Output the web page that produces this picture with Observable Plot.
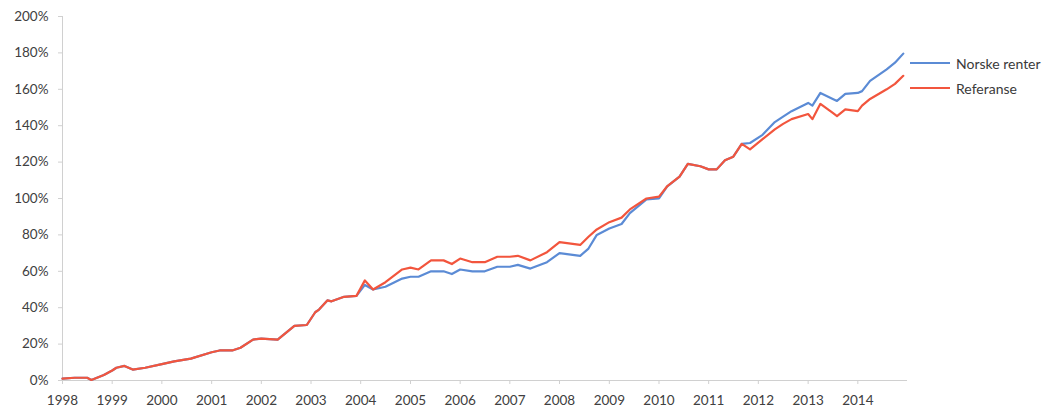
<!DOCTYPE html>
<html>
<head>
<meta charset="utf-8">
<script src="https://cdn.jsdelivr.net/npm/d3@7"></script>
<script src="https://cdn.jsdelivr.net/npm/@observablehq/plot@0.6"></script>
<style>
  html, body { margin: 0; padding: 0; background: #ffffff; }
  #wrap { position: relative; width: 1050px; height: 413px; font-family: Lato, "Open Sans", sans-serif; }
  .legend { position: absolute; left: 910px; font-size: 14px; color: #3a3a3a; display: flex; align-items: center; }
  .legend .sw { width: 40px; height: 2px; margin-right: 6px; }
</style>
</head>
<body>
<div id="wrap"></div>
<script>
const seriesNames = ["Norske renter", "Referanse"];
const seriesColors = ["#5b8bd5", "#f2553d"];

const dates = [
  "1998-01","1998-04","1998-07","1998-08","1998-11","1999-01","1999-02","1999-04","1999-06","1999-09",
  "2000-01","2000-04","2000-08","2001-01","2001-03","2001-06","2001-08","2001-11","2002-01","2002-05",
  "2002-09","2002-12","2003-02","2003-03","2003-05","2003-06","2003-09","2003-12","2004-02","2004-04",
  "2004-07","2004-11","2005-01","2005-03","2005-06","2005-09","2005-11","2006-01","2006-04","2006-07",
  "2006-10","2007-01","2007-03","2007-06","2007-10","2008-01","2008-06","2008-08","2008-10","2009-01",
  "2009-04","2009-06","2009-10","2010-01","2010-03","2010-06","2010-08","2010-11","2011-01","2011-03",
  "2011-05","2011-07","2011-09","2011-11","2012-02","2012-05","2012-07","2012-09","2013-01","2013-02",
  "2013-04","2013-07","2013-08","2013-10","2014-01","2014-02","2014-04","2014-08","2014-10","2014-12"
];

const norske = [
  1,1.5,1.5,0.3,3,5.5,7,8,6,7,
  9,10.5,12,15.5,16.5,16.5,18,22.5,23,22.5,
  30,30.5,37.5,39,44,43.5,46,46.5,52.5,50,
  51.5,56,57,57,60,60,58.5,61,60,60,
  62.5,62.5,63.5,61.5,65,70,68.5,72.5,80,83.5,
  86,92,99.5,100,106.5,112,119,117.7,116,116,
  121,123,130,130.5,135,142,145,148,152.5,151,
  158,154.7,153.6,157.5,158,159,164.6,171,174.6,179.6
];

const referanse = [
  1,1.5,1.5,0.3,3,5.5,7,8,6,7,
  9,10.5,12,15.5,16.5,16.5,18,22.5,23,22.5,
  30,30.5,37.5,39,44,43.5,46,46.5,55,50,
  54,61,62,61,66,66,64,67,65,65,
  68,68,68.5,66,70.5,76,74.5,79,83,87,
  89.5,94,100,101,106.6,112,119,117.7,116,116,
  121,123,130,127,132.6,138,141,143.6,146.4,143.6,
  152,147,145.3,149,148,151,154.7,160,163,167.4
];

const yTicks = [0, 0.2, 0.4, 0.6, 0.8, 1.0, 1.2, 1.4, 1.6, 1.8, 2.0];
const xTickYears = d3.range(1998, 2015);

const parse = d3.utcParse("%Y-%m");
const data = [];
dates.forEach((d, i) => {
  data.push({date: parse(d), value: norske[i] / 100, series: seriesNames[0]});
});
dates.forEach((d, i) => {
  data.push({date: parse(d), value: referanse[i] / 100, series: seriesNames[1]});
});

const xStart = new Date(Date.UTC(1998, 0, 1));
const xEnd = new Date(Date.UTC(2015, 0, 1));
const gridColor = "#d0d0d0";

const chart = Plot.plot({
  width: 1050,
  height: 413,
  marginLeft: 62,
  marginRight: 143,
  marginTop: 16,
  marginBottom: 33,
  style: {fontFamily: "Lato, 'Open Sans', sans-serif", fontSize: "13.5px", color: "#404040", background: "transparent"},
  x: {type: "utc", domain: [xStart, xEnd]},
  y: {domain: [0, 2]},
  color: {domain: seriesNames, range: seriesColors},
  marks: [
    Plot.ruleX([xStart], {stroke: gridColor}),
    Plot.ruleY([0], {stroke: gridColor}),
    Plot.axisY({
      ticks: yTicks,
      tickFormat: d => Math.round(d * 100) + "%",
      tickSize: 4,
      tickPadding: 10,
      stroke: gridColor,
      label: null
    }),
    Plot.axisX({
      ticks: xTickYears.map(y => new Date(Date.UTC(y, 0, 1))),
      tickFormat: d3.utcFormat("%Y"),
      tickSize: 4,
      tickPadding: 11,
      stroke: gridColor,
      label: null
    }),
    Plot.line(data, {
      x: "date", y: "value", z: "series", stroke: "series",
      strokeWidth: 2.2, strokeLinejoin: "round", curve: "linear"
    })
  ]
});

const wrap = document.getElementById("wrap");
wrap.appendChild(chart);

const legendY = [63, 88];
seriesNames.forEach((name, i) => {
  const item = document.createElement("div");
  item.className = "legend";
  item.style.top = (legendY[i] - 9) + "px";
  item.style.height = "18px";
  const sw = document.createElement("span");
  sw.className = "sw";
  sw.style.background = seriesColors[i];
  const label = document.createElement("span");
  label.textContent = name;
  item.appendChild(sw);
  item.appendChild(label);
  wrap.appendChild(item);
});
</script>
</body>
</html>
